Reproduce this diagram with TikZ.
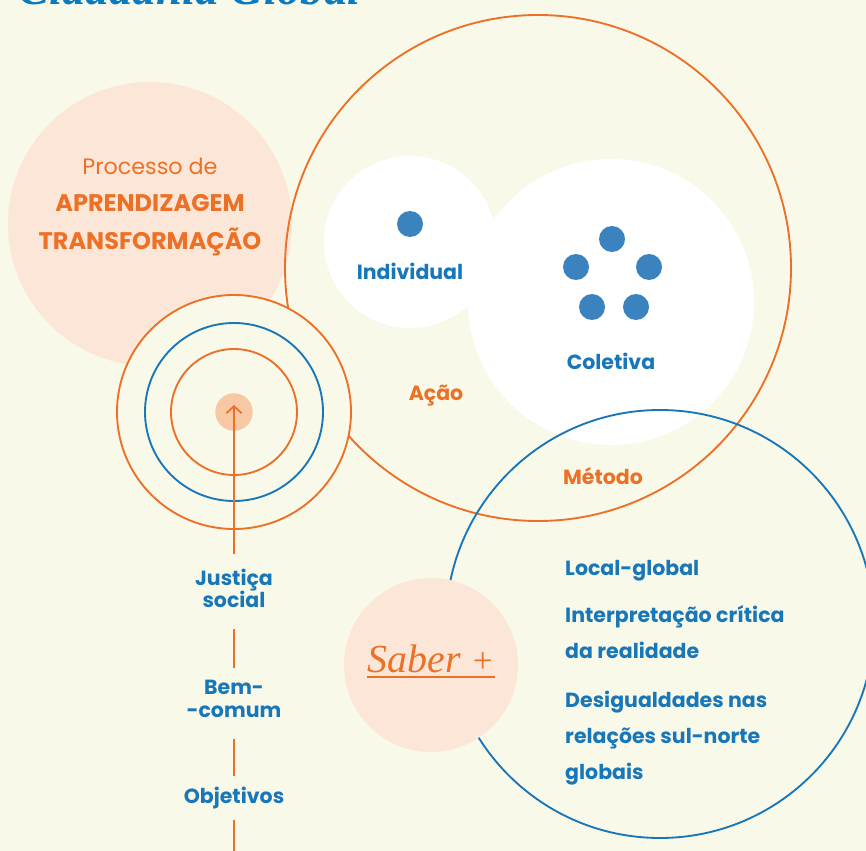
\documentclass[tikz,border=0pt]{standalone}
\usepackage{fontspec}
\usepackage{tikz}
\usetikzlibrary{arrows.meta}
\newfontfamily\montfont{Poppins}
\newfontfamily\titlefont{Liberation Serif}
\definecolor{fundo}{HTML}{F9F9EA}
\definecolor{laranja}{HTML}{EC7127}
\definecolor{azul}{HTML}{1877B9}
\definecolor{bolinha}{HTML}{3A83BF}
\definecolor{rosa}{HTML}{FCE6D7}
\definecolor{pessego}{HTML}{F8C8A4}
\definecolor{titulo}{HTML}{0A7BC0}
\tikzset{
    rotulo/.style={font=\montfont\bfseries\fontsize{17.5}{20}\selectfont, text=azul, inner sep=0pt},
    rotuloL/.style={rotulo, text=laranja},
    lista/.style={rotulo, anchor=base west, align=left, font=\montfont\bfseries\fontsize{17.5}{30.6}\selectfont},
    anel/.style={line width=1.6pt},
    traco/.style={draw=laranja, line width=1.5pt},
}

\begin{document}
\begin{tikzpicture}[x=0.03cm, y=-0.03cm]
    \fill[fundo] (0,0) rectangle (866,851);
    \useasboundingbox (0,0) rectangle (866,851);
    \clip (0,0) rectangle (866,851);
    % titulo cortado no topo
    \node[anchor=base west, inner sep=0pt, text=titulo, font=\titlefont\bfseries\itshape\fontsize{40}{42}\selectfont] (TIT) at (18,5) {Cidadania Global};
    % processo de aprendizagem
    \fill[rosa] (150,224) circle[radius=142];
    \node[rotuloL, align=center, font=\montfont\bfseries\fontsize{20.5}{32}\selectfont] (PROC) at (150,207) {{\mdseries\fontsize{19}{32}\selectfont Processo de}\\APRENDIZAGEM\\TRANSFORMAÇÃO};
    % acao: individual e coletiva
    \fill[white] (410,242) circle[radius=86];
    \fill[white] (611,302) circle[radius=143];
    \draw[anel, laranja] (538,268) circle[radius=253];
    \fill[bolinha] (410,224) circle[radius=13];
    \foreach \px/\py in {612/239, 576/267, 649/267, 592/307, 636/307}
        \fill[bolinha] (\px,\py) circle[radius=13];
    \node[rotulo] (IND) at (410,271) {Individual};
    \node[rotulo] (COL) at (611,361) {Coletiva};
    \node[rotuloL] (ACAO) at (436,396) {Ação};
    % metodo
    \draw[anel, azul] (660,624) circle[radius=214];
    \node[rotuloL] (MET) at (603,476) {Método};
    \fill[rosa] (431,665) circle[radius=87];
    \node[inner sep=0pt, anchor=base, text=laranja, font=\titlefont\itshape\fontsize{34}{36}\selectfont] (SABER) at (431,672) {Saber {\fontsize{30}{30}\selectfont +}};
    \draw[laranja, line width=1.7pt] ([yshift=-4.5pt]SABER.base west) -- ([yshift=-4.5pt]SABER.base east);
    \node[lista] (LOC) at (565,575) {Local-global};
    \node[lista] (INT) at (565,658) {Interpretação crítica\\da realidade};
    \node[lista] (DES) at (565,779) {Desigualdades nas\\relações sul-norte\\globais};
    % aneis concentricos
    \filldraw[anel, draw=laranja, fill=fundo] (234,412) circle[radius=117];
    \draw[anel, azul] (234,412) circle[radius=89];
    \draw[anel, laranja] (234,412) circle[radius=63];
    \node[circle, fill=pessego, minimum size=32pt, inner sep=0pt] (CENTRO) at (234,412) {};
    % objetivos
    \node[rotulo, align=center, font=\montfont\bfseries\fontsize{17.5}{19}\selectfont] (JUST) at (234,588) {Justiça\\social};
    \node[rotulo, align=center, font=\montfont\bfseries\fontsize{17.5}{19.5}\selectfont] (BEM) at (234,699) {Bem-\\-comum};
    \node[rotulo] (OBJ) at (234,798) {Objetivos};
    \coordinate (FIM) at (234,860);
    \draw[traco, -{Straight Barb[length=6pt, width=13pt]}, shorten <=12pt, shorten >=-6pt] (JUST.north) -- (CENTRO.center);
    \draw[traco, shorten <=18pt, shorten >=10pt] (JUST.south) -- (BEM.north);
    \draw[traco, shorten <=18pt, shorten >=9pt] (BEM.south) -- (OBJ.north);
    \draw[traco, shorten <=9pt] (OBJ.south) -- (FIM);
\end{tikzpicture}
\end{document}
